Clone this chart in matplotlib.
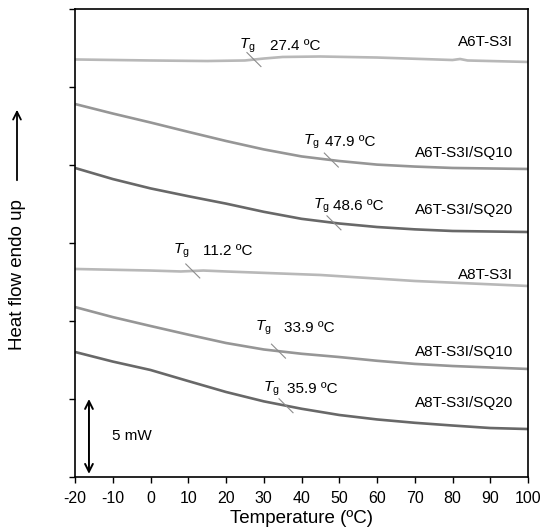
import numpy as np
import matplotlib
matplotlib.use("Agg")
import matplotlib.pyplot as plt

plt.rcParams['font.family'] = ['Liberation Sans', 'DejaVu Sans']
plt.rcParams['mathtext.fontset'] = 'custom'
plt.rcParams['mathtext.rm'] = 'Liberation Sans'
plt.rcParams['mathtext.it'] = 'Liberation Sans:italic'
plt.rcParams['axes.unicode_minus'] = False

# DSC-egri chiziqlari (harorat, issiqlik oqimi - ixtiyoriy birlik)
names = ['A6T-S3I', 'A6T-S3I/SQ10', 'A6T-S3I/SQ20',
         'A8T-S3I', 'A8T-S3I/SQ10', 'A8T-S3I/SQ20']
tg_values = [27.4, 47.9, 48.6, 11.2, 33.9, 35.9]

t_a6 = [-20, 0, 15, 25, 30, 35, 45, 60, 80, 82, 84, 100]
y_a6 = [5.353, 5.340, 5.333, 5.340, 5.365, 5.385, 5.391, 5.378, 5.346, 5.359, 5.340, 5.321]

t_a6_sq10 = [-20, -10, 0, 10, 20, 30, 40, 50, 60, 70, 80, 100]
y_a6_sq10 = [4.782, 4.660, 4.545, 4.425, 4.308, 4.200, 4.110, 4.051, 4.005, 3.980, 3.962, 3.949]

t_a6_sq20 = [-20, -10, 0, 10, 20, 30, 40, 50, 60, 70, 80, 100]
y_a6_sq20 = [3.962, 3.820, 3.700, 3.600, 3.505, 3.400, 3.310, 3.250, 3.205, 3.175, 3.154, 3.141]

t_a8 = [-20, 0, 8, 14, 20, 45, 70, 100]
y_a8 = [2.667, 2.647, 2.635, 2.647, 2.635, 2.590, 2.513, 2.449]

t_a8_sq10 = [-20, -10, 0, 10, 20, 30, 40, 50, 60, 70, 80, 100]
y_a8_sq10 = [2.179, 2.050, 1.936, 1.825, 1.718, 1.635, 1.580, 1.538, 1.490, 1.450, 1.423, 1.385]

t_a8_sq20 = [-20, -10, 0, 10, 20, 30, 40, 50, 60, 70, 80, 90, 100]
y_a8_sq20 = [1.603, 1.480, 1.372, 1.230, 1.090, 0.970, 0.875, 0.795, 0.738, 0.695, 0.660, 0.628, 0.615]

curves = [(t_a6, y_a6), (t_a6_sq10, y_a6_sq10), (t_a6_sq20, y_a6_sq20),
          (t_a8, y_a8), (t_a8_sq10, y_a8_sq10), (t_a8_sq20, y_a8_sq20)]
colors = ['#b8b8b8', '#969696', '#686868', '#b8b8b8', '#969696', '#686868']

# yozuvlar joylashuvi (piksel siljishlari)
label_y = [5.58, 4.15, 3.42, 2.59, 1.60, 0.95]
tg_text_dx = [-15, -28, -21, -20, -23, -23]
val_text_dx = [16, -6, -1, 10, 6, 1]
text_dy = [14, 18, 17, 20, 23, 17]

fig = plt.figure(figsize=(5.4, 5.3), dpi=100)
ax = fig.add_axes([75 / 540, 53 / 530, 453 / 540, 468 / 530])

for (t, y), c in zip(curves, colors):
    ax.plot(t, y, color=c, linewidth=1.9, solid_capstyle='butt')

ax.set_xlim(-20, 100)
ax.set_ylim(0, 6)
ax.set_xticks(np.arange(-20, 101, 10))
ax.set_yticks(np.arange(0, 7, 1))
ax.set_yticklabels([])
ax.tick_params(axis='both', direction='out', length=4, width=1, labelsize=11.5, pad=6)
ax.tick_params(axis='y', right=False)
for s in ax.spines.values():
    s.set_linewidth(1.2)

fig.canvas.draw()
to_disp = ax.transData
to_data = ax.transData.inverted()

for i, (t, y) in enumerate(curves):
    tg = tg_values[i]
    yc = np.interp(tg, t, y)
    px, py = to_disp.transform((tg, yc))
    (x0, y0), (x1, y1) = to_data.transform([(px - 7, py + 7), (px + 7, py - 7)])
    ax.plot([x0, x1], [y0, y1], color='#8c8c8c', linewidth=0.8)
    ax.annotate(r'$\mathit{T}_\mathrm{g}$', xy=(tg, yc), xytext=(tg_text_dx[i], text_dy[i]),
                textcoords='offset pixels', ha='left', va='center', fontsize=11)
    ax.annotate('%.1f ºC' % tg, xy=(tg, yc), xytext=(val_text_dx[i], text_dy[i]),
                textcoords='offset pixels', ha='left', va='center', fontsize=11)
    ax.text(0.967, label_y[i], names[i], transform=ax.get_yaxis_transform(),
            ha='right', va='center', fontsize=11)

# 5 mW shkala
ax.annotate('', xy=(-16.3, 0.04), xytext=(-16.3, 1.0),
            arrowprops=dict(arrowstyle='<->', color='black', lw=1.4, mutation_scale=14,
                            shrinkA=0, shrinkB=0))
ax.text(-10.2, 0.52, '5 mW', ha='left', va='center', fontsize=11)

ax.set_xlabel('Temperature (ºC)', fontsize=13.5, labelpad=3)
fig.text(18 / 540, 1 - 275 / 530, 'Heat flow endo up', rotation=90,
         ha='center', va='center', fontsize=13.5)
fig.patches.append(matplotlib.patches.FancyArrowPatch(
    (17 / 540, 1 - 183 / 530), (17 / 540, 1 - 107 / 530), transform=fig.transFigure,
    arrowstyle='->', mutation_scale=14, color='black', lw=1.3))

fig.savefig('out.png', dpi=100)
